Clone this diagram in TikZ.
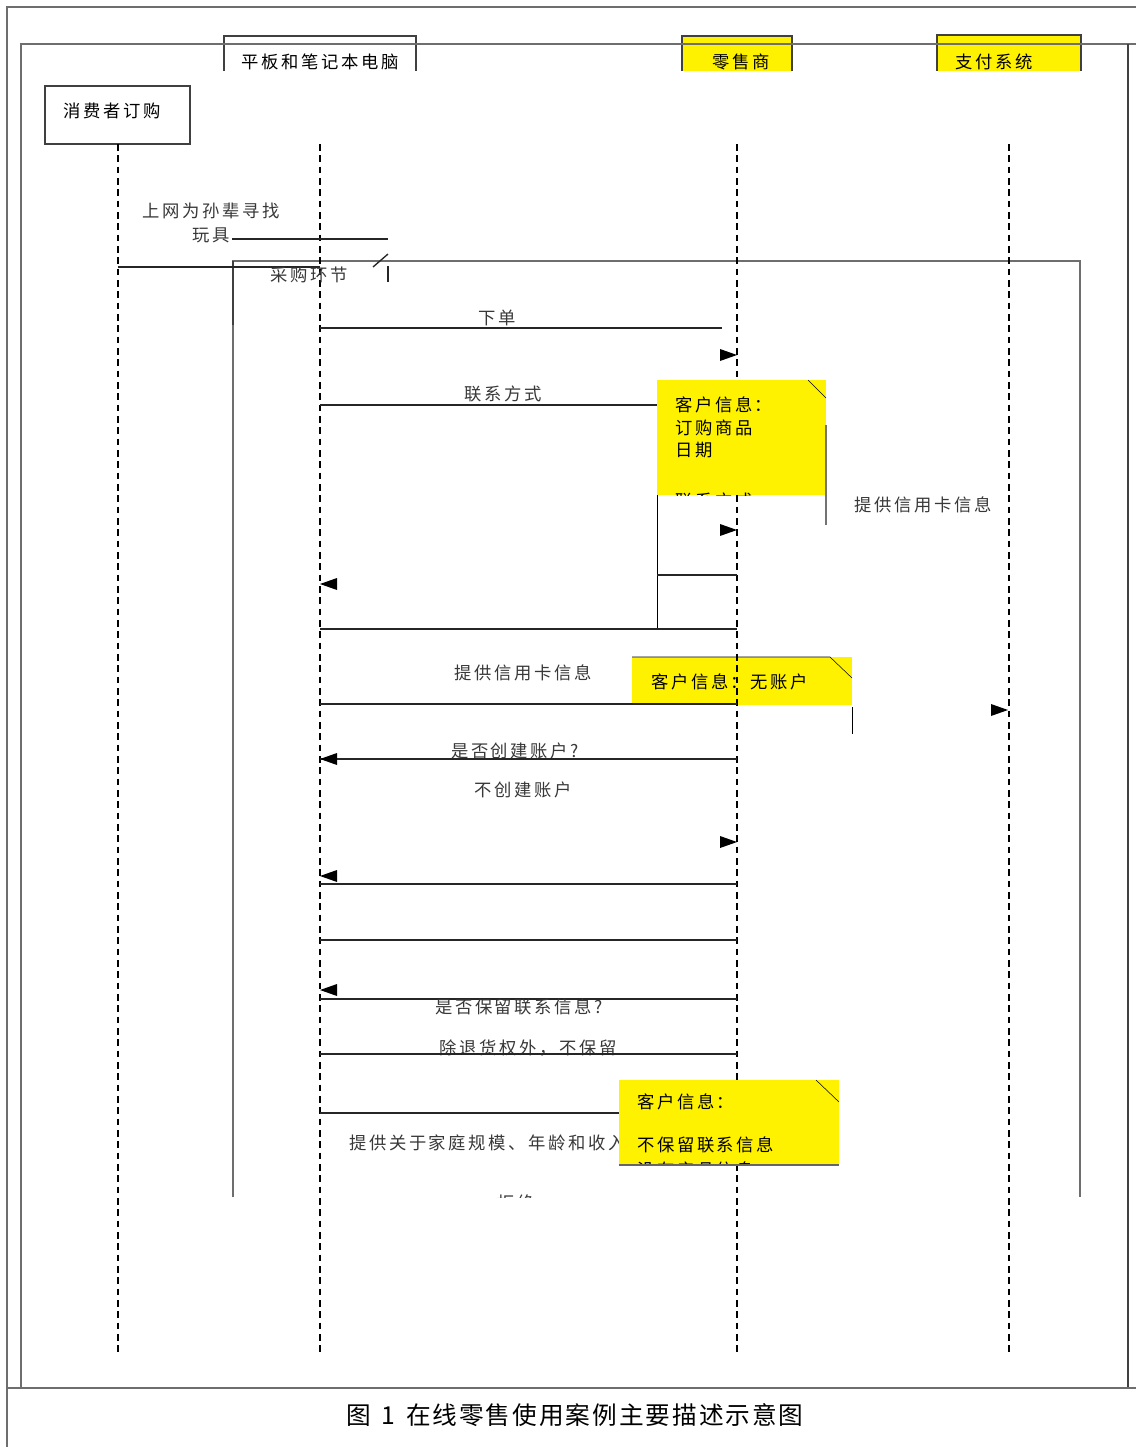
\documentclass[tikz,border=0pt]{standalone}
\usepackage{fontspec}
\newfontfamily\cjk[LetterSpace=15]{Noto Sans CJK SC}
\newfontfamily\capfont[LetterSpace=8]{Noto Sans CJK SC}
\begin{document}
\begin{tikzpicture}[x=0.75pt,y=-0.75pt,
  frameline/.style={draw={rgb,255:red,110;green,110;blue,110}, line width=1.1pt},
  boxline/.style={draw=black!75, line width=0.9pt},
  msg/.style={draw=black!85, line width=1pt},
  life/.style={draw=black, line width=0.9pt, dash pattern=on 5pt off 3.5pt},
  lbl/.style={font=\cjk\fontsize{13}{16}\selectfont, text=black!78, inner sep=0pt},
  hdr/.style={font=\cjk\fontsize{13}{16}\selectfont, text=black, inner sep=0pt},
  ntxt/.style={font=\cjk\fontsize{13}{16}\selectfont, text=black, inner sep=0pt, anchor=west},
  tipr/.pic={\fill[black] (0,0) -- (-17,-6) -- (-17,6) -- cycle;},
  tipl/.pic={\fill[black] (0,0) -- (17,-6) -- (17,6) -- cycle;}
]
\useasboundingbox (0,0) rectangle (1136,1447);
\fill[white] (0,0) rectangle (1136,1447);

% header boxes
\fill[yellow] (682,36) rectangle (792,71);
\fill[yellow] (937,35) rectangle (1081,71);
\draw[boxline] (224,71) |- (416,36) -- (416,71);
\draw[boxline] (682,71) |- (792,36) -- (792,71);
\draw[boxline] (937,71) |- (1081,35) -- (1081,71);

% outer frames
\draw[frameline] (7,1447) -- (7,7) -- (1136,7);
\draw[frameline] (21,1388) -- (21,44) -- (1136,44);
\draw[boxline] (1128,44) -- (1128,1388);
\draw[frameline] (7,1388) -- (1136,1388);

% header texts
\node[hdr] (tab) at (320,62) {平板和笔记本电脑};
\node[hdr] (ret) at (741,62) {零售商};
\node[hdr] (pay) at (994,62) {支付系统};
\draw[boxline] (45,86) rectangle (190,144);
\node[hdr] (con) at (112,111) {消费者订购};

% combined fragment frame
\draw[frameline] (233,1197) -- (233,261) -- (1080,261) -- (1080,1197);
\draw[boxline] (233,261) -- (233,325);

% note 2 (under lifelines)
\fill[yellow] (632,657) rectangle (852,705);

% lifelines
\draw[life] (118,144) -- (118,1352);
\draw[life] (320,144) -- (320,1352);
\draw[life] (737,144) -- (737,1352);
\draw[life] (1009,144) -- (1009,1352);

% first message
\node[lbl] (m0a) at (211,211) {上网为孙辈寻找};
\node[lbl] (m0b) at (211,235) {玩具};
\draw[msg] (232,239) -- (388,239);
\draw[msg] (373,267) -- (388,254);
\draw[msg] (388,266) -- (388,282);
\draw[msg, line width=1.2pt] (118,267) -- (320,267);
\node[lbl] (frag) at (309,275) {采购环节};

% order
\node[lbl] (m1) at (497,318) {下单};
\draw[msg] (320,328) -- (722,328);
\pic at (737,355) {tipr};

\node[lbl] (m2) at (503,394) {联系方式};
\draw[msg] (320,405) -- (657,405);

% note 1
\fill[yellow] (657,380) rectangle (826,495);
\draw[black] (808,380) -- (826,398);
\begin{scope}
\clip (657,380) rectangle (826,495);
\node[ntxt] (n1a) at (675,405) {客户信息：};
\node[ntxt] (n1b) at (675,428) {订购商品};
\node[ntxt] (n1c) at (675,450) {日期};
\node[ntxt] (n1d) at (675,501) {联系方式};
\end{scope}
\draw[black] (657,495) -- (657,629);
\draw[black!55, line width=1pt] (826,425) -- (826,525);
\node[lbl] (m3) at (923,505) {提供信用卡信息};
\pic at (737,530) {tipr};
\draw[msg] (657,575) -- (737,575);
\pic at (320,584) {tipl};
\draw[msg] (320,629) -- (737,629);

% credit card
\node[lbl] (m4) at (523,673) {提供信用卡信息};
\draw[black] (632,657) -- (830,657) -- (852,678);
\node[ntxt] (n2) at (651,682) {客户信息：无账户};
\draw[msg] (320,704) -- (737,704);
\draw[black] (852,707) -- (852,734);
\pic at (1008,710) {tipr};

\node[lbl] (m5) at (515,751) {是否创建账户?};
\draw[msg] (320,759) -- (737,759);
\pic at (320,759) {tipl};
\node[lbl] (m6) at (523,790) {不创建账户};
\pic at (737,842) {tipr};
\pic at (320,876) {tipl};
\draw[msg] (320,884) -- (737,884);
\draw[msg] (320,940) -- (737,940);
\pic at (320,990) {tipl};
\draw[msg] (320,999) -- (737,999);
\node[lbl] (m7) at (519,1007) {是否保留联系信息?};
\node[lbl] (m8) at (528,1048) {除退货权外，不保留};
\draw[msg] (320,1054) -- (737,1054);
\draw[msg] (320,1113) -- (619,1113);
\node[lbl, anchor=west] (m9) at (349,1143) {提供关于家庭规模、年龄和收入};

% note 3
\fill[yellow] (619,1080) rectangle (839,1165);
\draw[black] (816,1080) -- (839,1102);
\begin{scope}
\clip (619,1080) rectangle (839,1165);
\node[ntxt] (n3a) at (637,1102) {客户信息：};
\node[ntxt] (n3b) at (637,1145) {不保留联系信息};
\node[ntxt] (n3c) at (637,1170) {没有产品信息};
\end{scope}
\draw[black!60, line width=1pt] (619,1165) -- (839,1165);

% clipped refusal
\begin{scope}
\clip (300,1150) rectangle (700,1197);
\node[lbl] (m10) at (516,1203) {拒绝};
\end{scope}

% caption
\node[font=\capfont\fontsize{18.5}{22}\selectfont, inner sep=0pt] (cap) at (575,1415) {图\hspace{8pt}1\hspace{8pt}在线零售使用案例主要描述示意图};
\end{tikzpicture}
\end{document}
